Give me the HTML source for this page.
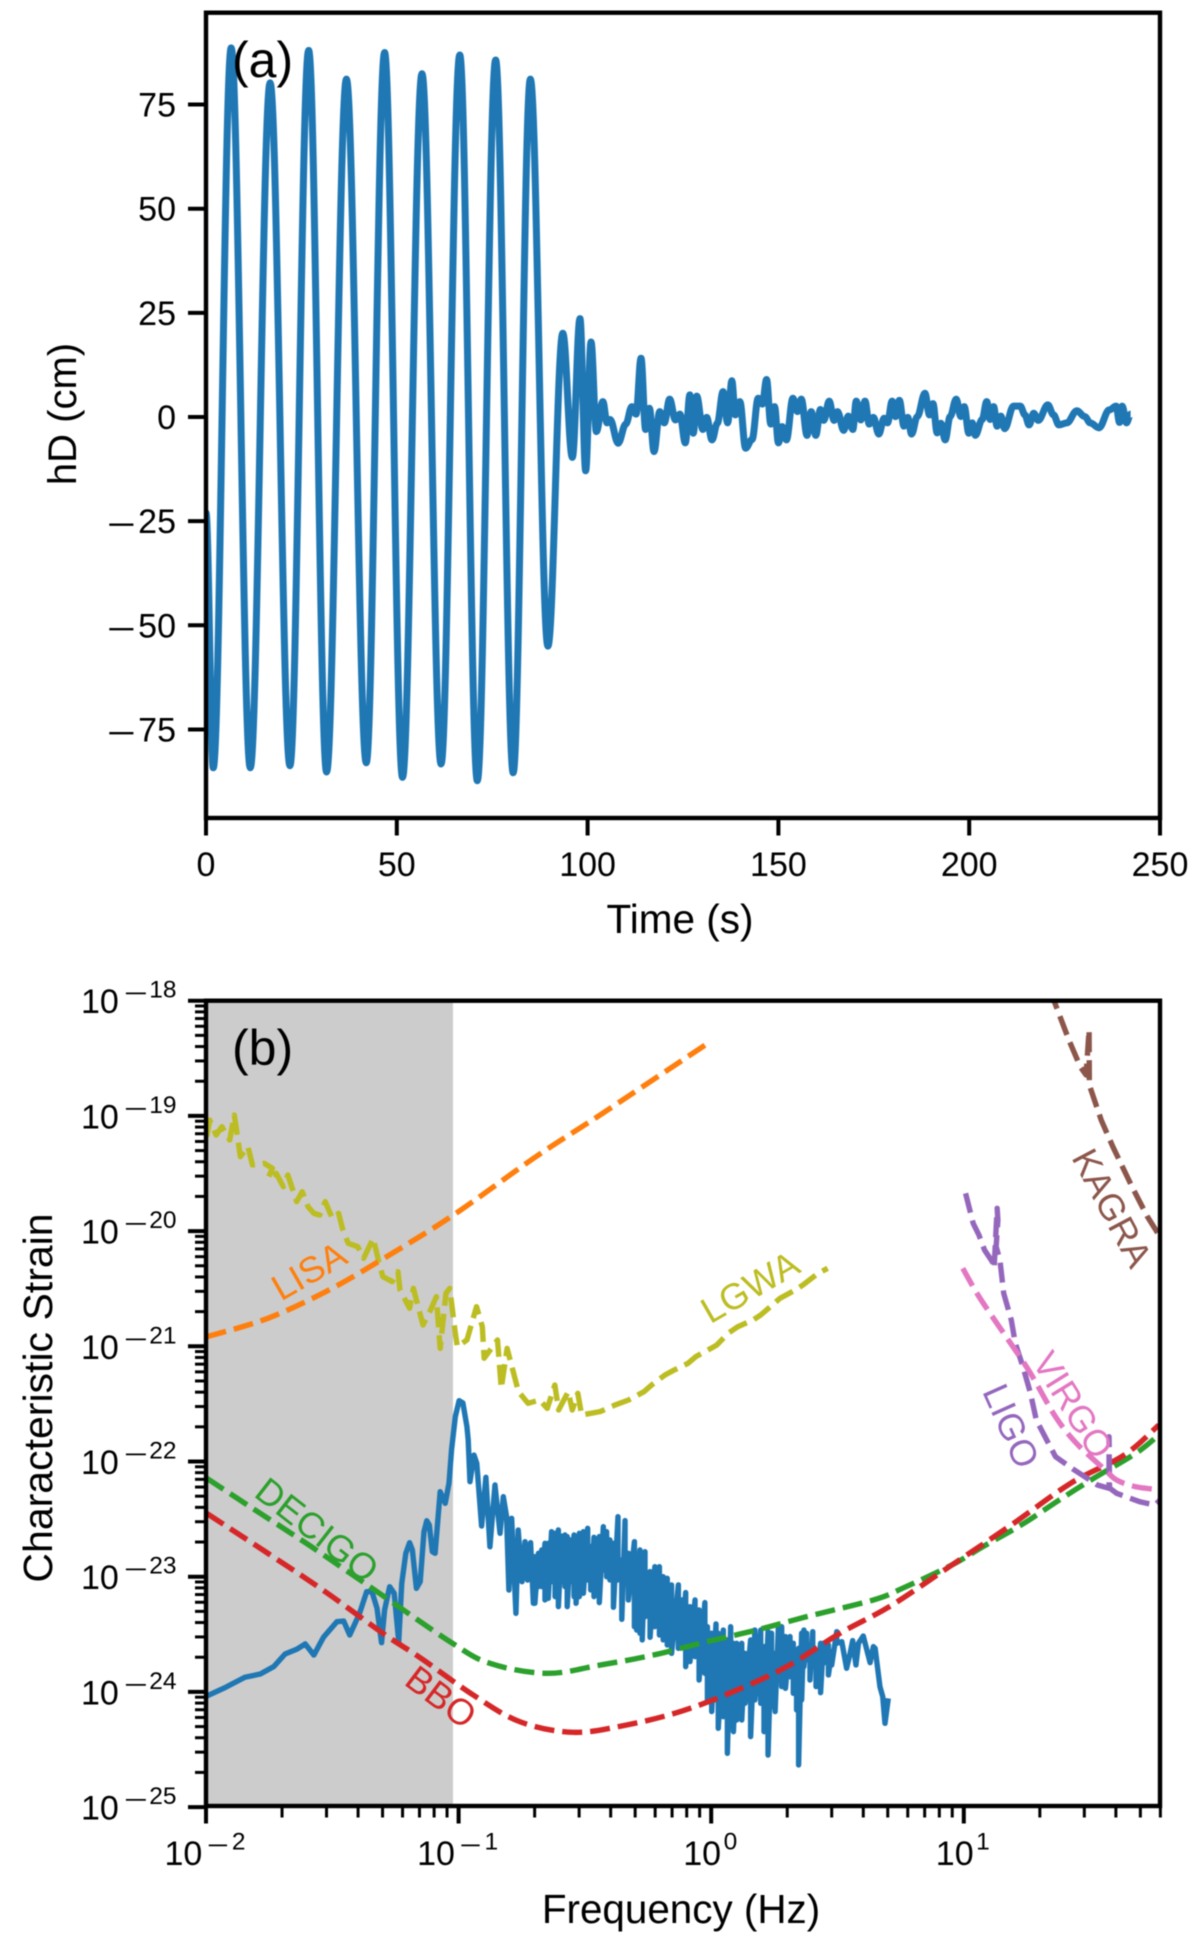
<!DOCTYPE html>
<html lang="en">
<head>
<meta charset="utf-8">
<title>Gravitational wave strain and characteristic strain</title>
<style>
html,body{margin:0;padding:0;background:#fff}
svg{display:block;filter:blur(0.5px)}
text{font-family:"Liberation Sans",sans-serif;fill:#000}
.line{fill:none;stroke-linejoin:round}
</style>
</head>
<body>
<svg id="figure" xmlns="http://www.w3.org/2000/svg" width="1200" height="1946" viewBox="0 0 1200 1946">
<rect width="1200" height="1946" fill="#fff"/>
<defs>
<clipPath id="clipA"><rect x="206" y="12.7" width="954" height="805.3"/></clipPath>
<clipPath id="clipB"><rect x="206" y="1000.7" width="954" height="805.3"/></clipPath>
</defs>
<g id="panelA"></g>
<g id="panelB"></g>
<text x="232" y="77" font-size="50">(a)</text>
<text x="232" y="1065" font-size="50">(b)</text>
<text x="680" y="933" font-size="40.5" text-anchor="middle">Time (s)</text>
<text x="76" y="414" font-size="40" text-anchor="middle" transform="rotate(-90 76 414)">hD (cm)</text>
<text x="681" y="1923" font-size="40.4" text-anchor="middle">Frequency (Hz)</text>
<text x="52" y="1398" font-size="41" text-anchor="middle" transform="rotate(-90 52 1398)">Characteristic Strain</text>
</svg>
<script>
// ---- Panel (a) data: time (s) and hD (cm), read at the local extrema of the curve
const waveTime = [0,1.9,6.6,11.6,16.8,22.0,26.9,31.6,36.8,42.0,46.8,51.5,56.6,61.6,66.5,71.1,75.9,80.5,85.0,89.6,
93.5,96,98,99.5,100.9,102.3,104,105.1,105.9,108,110,111.6,112.7,114,115.2,116.2,117.4,118.9,120.1,121.5,
123,124.2,125.6,126.8,127.7,128.6,130.2,131.2,132.6,134,135.5,136.7,137.8,138.7,139.9,141.4,143.1,144.7,145.8,146.9,
148,149,150,151,152.1,153.8,155,156,157.5,158.6,159.8,161,161.9,163.3,164.6,165.5,167.1,168.3,169.5,170.4,
171.6,172.7,173.8,174.9,176.3,177.7,178.6,179.8,180.7,181.7,182.9,183.9,184.9,186.4,188.4,189.6,190.5,191.6,192.6,193.7,
195,196.6,197.8,198.7,199.9,200.8,201.6,203.4,204.6,205.5,206.4,207.3,208.3,209.3,211.6,213.4,214.6,215.7,216.9,218.1,
220.6,222.1,223.5,225.6,228.2,230.3,231.7,234,236.7,238.5,239.4,240.1,241.2,242.3];
const waveHD = [-23,-84.2,88.6,-84.2,80.2,-83.7,88.0,-85.2,81.1,-83,87.5,-86.5,82.4,-83.3,86.9,-87.3,85.7,-85.4,81.1,-55,
20.1,-9.7,23.6,-12.9,18,-3.5,3.7,-1.4,-0.6,-6.3,-1.7,2.5,0.7,14.1,-3,2.1,-8.3,1.3,-1.4,4.3,
-0.7,0.7,-6.2,5.3,-3.9,5,-3,-0.1,-5.5,-1.5,6.1,-1.4,8.7,0.5,3.7,-7.5,-5.4,4.5,3.1,9,
-1.7,2.5,-6.2,-2.3,-5.5,4.5,1.3,4.3,-4.4,1.3,-4.4,1.8,-0.8,3.8,-0.8,1.3,-3.2,0.2,-3,3.8,
-0.7,3.8,-1.7,-0.1,-4.1,-0.3,-1.4,3.8,0.1,4,-2.2,-0.1,-4.1,0.1,5.7,0.5,3.2,-3.8,-1.5,-5.5,
0.1,4.3,0.1,2.5,-3.9,-1.4,-4.4,-0.6,3.7,-0.6,2.5,-2.2,0.2,-2.8,2.6,2.6,0.5,-1.9,0.9,-0.8,
2.9,0.5,-1.9,-1.4,1.5,0.1,-1.4,-2.6,1.7,2.6,-1.3,2.6,-1.4,0.7];
const waveXTicks = [0,50,100,150,200,250];
const waveYTicks = [-75,-50,-25,0,25,50,75];

// ---- Panel (b) data: log10(frequency / Hz) and log10(strain)
const spectrumHeadLogFreq = [-1.997,-1.922,-1.846,-1.785,-1.732,-1.687,-1.641,-1.607,-1.573,-1.535,-1.482,-1.455,-1.431,-1.392,-1.364,-1.343,-1.323,-1.305,-1.293,-1.273,
-1.255,-1.237,-1.225,-1.209,-1.194,-1.183,-1.167,-1.152,-1.137,-1.126,-1.116,-1.104,-1.093,-1.073,-1.053,-1.038,-1.028,-1.013,-0.998,-0.983,
-0.967,-0.962,-0.955,-0.939,-0.928,-0.909,-0.892,-0.876,-0.856,-0.836,-0.823,-0.810,-0.801,-0.790,-0.773,-0.764,-0.749,-0.737,-0.727,-0.715,-0.704];
const spectrumHeadLogStrain = [-24.036,-23.960,-23.873,-23.845,-23.781,-23.671,-23.630,-23.584,-23.680,-23.526,-23.391,-23.385,-23.506,-23.318,-23.130,-23.130,-23.274,-23.573,-23.289,-23.087,
-23.144,-23.564,-23.057,-22.797,-22.705,-22.768,-23.101,-23.043,-22.609,-22.514,-22.551,-22.783,-22.797,-22.262,-22.363,-22.187,-21.900,-21.611,-21.472,-21.492,
-21.698,-21.813,-22.175,-21.944,-22.016,-22.560,-22.137,-22.740,-22.204,-22.623,-22.306,-22.479,-23.116,-22.493,-23.318,-22.595,-23.043,-22.696,-23.029,-22.705,-23.231];

const bandLogFreq = [-0.698,-0.684,-0.671,-0.658,-0.645,-0.632,-0.618,-0.605,-0.592,-0.579,
-0.570,-0.556,-0.543,-0.535,-0.522,-0.506,-0.489,-0.477,-0.464,-0.443,
-0.427,-0.414,-0.401,-0.387,-0.369,-0.354,-0.341,-0.328,-0.304,-0.295,
-0.282,-0.273,-0.262,-0.242,-0.223,-0.205,-0.190,-0.174,-0.157,-0.130,
-0.117,-0.101,-0.084,-0.064,-0.048,-0.025,-0.015,0.002,0.019,0.028,
0.048,0.064,0.077,0.088,0.101,0.121,0.134,0.156,0.173,0.196,
0.209,0.225,0.239,0.253,0.266,0.279,0.294,0.312,0.325,0.338,
0.346,0.358,0.367,0.378,0.391,0.402,0.415,0.433,0.444,0.464,
0.477,0.497];
const bandPeakLogStrain = [-22.826,-22.797,-22.768,-22.710,-22.710,-22.609,-22.623,-22.594,-22.647,-22.638,
-22.652,-22.681,-22.638,-22.652,-22.623,-22.609,-22.580,-22.739,-22.658,-22.652,
-22.566,-22.609,-22.681,-22.710,-22.479,-22.855,-22.513,-22.797,-22.696,-22.942,
-22.768,-22.971,-22.783,-22.956,-22.913,-22.913,-23.000,-23.014,-23.072,-23.072,
-23.202,-23.138,-23.260,-23.202,-23.289,-23.225,-23.434,-23.491,-23.410,-23.491,
-23.463,-23.549,-23.434,-23.578,-23.578,-23.578,-23.665,-23.549,-23.463,-23.463,
-23.607,-23.477,-23.491,-23.665,-23.434,-23.434,-23.520,-23.520,-23.578,-23.665,
-23.622,-23.491,-23.463,-23.491,-23.607,-23.477,-23.665,-23.578,-23.578,-23.593,
-23.651,-23.477];
const bandDipLogStrain = [-23.231,-23.086,-23.086,-23.202,-23.188,-23.043,-23.173,-23.260,-23.043,-23.086,
-23.260,-23.043,-23.173,-23.231,-23.173,-23.144,-23.028,-23.115,-23.173,-23.225,
-22.942,-23.000,-23.028,-23.266,-23.028,-23.370,-23.057,-23.202,-23.434,-23.463,
-23.491,-23.549,-23.347,-23.526,-23.434,-23.506,-23.549,-23.593,-23.665,-23.622,
-23.578,-23.781,-23.737,-23.694,-23.897,-23.839,-24.070,-24.171,-24.070,-24.316,
-24.215,-24.533,-24.244,-24.345,-24.244,-24.244,-24.099,-24.388,-24.070,-24.099,
-24.345,-24.548,-24.128,-24.171,-23.868,-23.954,-23.969,-23.868,-24.012,-24.157,
-24.634,-24.070,-23.781,-23.723,-23.897,-23.723,-23.954,-24.007,-23.752,-23.853,
-23.766,-23.578];

const spectrumTailLogFreq = [0.517,0.536,0.550,0.560,0.573,0.583,0.602,0.629,0.642,0.649,0.668,0.679,0.688,0.701];
const spectrumTailLogStrain = [-23.564,-23.795,-23.665,-23.555,-23.766,-23.578,-23.515,-23.746,-23.607,-23.622,-23.954,-24.041,-24.273,-24.056];

const lisaLogFreq = [-1.997,-1.755,-1.513,-1.285,-1.020,-0.694,-0.440,-0.024];
const lisaLogStrain = [-20.917,-20.757,-20.511,-20.222,-19.860,-19.354,-18.992,-18.385];

const decigoLogFreq = [-1.997,-1.816,-1.603,-1.361,-1.034,-0.876,-0.651,-0.440,-0.229,-0.018,0.180,0.378,0.642,0.757,0.953,1.075,1.227,1.378,1.514,1.681,1.772];
const decigoLogStrain = [-22.146,-22.406,-22.710,-23.072,-23.564,-23.752,-23.839,-23.767,-23.680,-23.564,-23.463,-23.347,-23.202,-23.101,-22.898,-22.740,-22.551,-22.334,-22.146,-21.929,-21.770];

const bboLogFreq = [-1.997,-1.755,-1.528,-1.300,-1.149,-0.942,-0.757,-0.546,-0.335,-0.124,0.087,0.299,0.510,0.710,0.953,1.188,1.423,1.635,1.772];
const bboLogStrain = [-22.450,-22.797,-23.130,-23.491,-23.708,-24.027,-24.259,-24.351,-24.287,-24.172,-23.998,-23.781,-23.491,-23.254,-22.898,-22.551,-22.189,-21.944,-21.683];

const lgwaLogFreq = [-1.997,-1.985,-1.960,-1.937,-1.906,-1.888,-1.879,-1.864,-1.834,-1.816,-1.770,-1.737,-1.755,-1.722,-1.694,-1.676,-1.641,-1.619,-1.596,-1.573,
-1.550,-1.528,-1.500,-1.475,-1.460,-1.437,-1.399,-1.376,-1.338,-1.316,-1.300,-1.263,-1.240,-1.232,-1.194,-1.179,-1.141,-1.111,-1.088,-1.073,
-1.050,-1.035,-1.013,-1.005,-0.967,-0.929,-0.906,-0.899,-0.846,-0.831,-0.808,-0.763,-0.725,-0.679,-0.649,-0.619,-0.604,-0.566,-0.550,-0.528,
-0.513,-0.440,-0.425,-0.380,-0.327,-0.266,-0.236,-0.183,-0.152,-0.092,-0.061,-0.001,0.022,0.067,0.105,0.166,0.196,0.242,0.272,0.333,0.363,0.423,0.461];
const lgwaLogStrain = [-19.180,-19.036,-19.166,-19.094,-19.209,-18.992,-19.122,-19.354,-19.267,-19.426,-19.412,-19.455,-19.542,-19.499,-19.614,-19.513,-19.744,-19.658,-19.788,-19.846,
-19.860,-19.744,-19.889,-19.846,-19.976,-20.106,-20.135,-20.236,-20.063,-20.265,-20.395,-20.439,-20.352,-20.511,-20.670,-20.497,-20.815,-20.685,-20.569,-21.018,
-20.540,-20.497,-20.887,-21.003,-20.945,-20.656,-20.830,-21.104,-20.945,-21.365,-21.018,-21.394,-21.495,-21.466,-21.539,-21.336,-21.553,-21.394,-21.553,-21.408,
-21.596,-21.567,-21.553,-21.509,-21.466,-21.394,-21.336,-21.249,-21.212,-21.148,-21.090,-21.018,-20.989,-20.887,-20.830,-20.772,-20.728,-20.642,-20.584,-20.511,-20.468,-20.367,-20.323];

const kagraLogFreq = [1.341,1.416,1.461,1.484,1.496,1.497,1.544,1.590,1.666,1.727,1.785];
const kagraLogStrain = [-17.907,-18.341,-18.573,-18.645,-18.254,-18.732,-19.036,-19.267,-19.615,-19.875,-20.077];

const ligoLogFreq = [1.007,1.037,1.060,1.082,1.113,1.120,1.132,1.135,1.128,1.143,1.158,1.188,1.204,1.234,1.264,1.287,1.325,1.363,1.438,1.529,1.575,1.575,1.577,1.605,1.696,1.757,1.785];
const ligoLogStrain = [-19.672,-19.932,-20.034,-20.164,-20.266,-20.323,-19.802,-19.904,-20.135,-20.251,-20.540,-20.772,-20.974,-21.177,-21.408,-21.640,-21.799,-21.958,-22.074,-22.204,-22.233,-21.785,-22.230,-22.276,-22.349,-22.378,-22.317];

const virgoLogFreq = [0.996,1.052,1.113,1.181,1.264,1.363,1.446,1.560,1.605,1.681,1.785];
const virgoLogStrain = [-20.323,-20.540,-20.743,-20.960,-21.234,-21.611,-21.842,-22.074,-22.161,-22.219,-22.247];

const shadedMaxHz = 0.095;
const freqDecades = [-2,-1,0,1];
const freqMinorMultipliers = [2,3,4,5,6,7,8,9];
const freqExtraMinors = [20,30,40,50,60];
const strainDecades = [-18,-19,-20,-21,-22,-23,-24,-25];

// ---- Axis functions
const xA = t => 206 + t * 3.816;
const yA = v => 417 - v * 4.166;
const xB = lf => 206 + (lf + 2) * 252.6;
const yB = lh => 1000.7 + (-18 - lh) * 115.2;

const NS = 'http://www.w3.org/2000/svg';
const panelA = document.getElementById('panelA');
const panelB = document.getElementById('panelB');
function mk(tag, parent, attrs) {
  const el = document.createElementNS(NS, tag);
  for (const k in attrs) el.setAttribute(k, attrs[k]);
  parent.appendChild(el);
  return el;
}
const fix = n => n.toFixed(2);
function polyPath(xs, ys) {
  return xs.map((x, i) => (i ? 'L' : 'M') + fix(x) + ' ' + fix(ys[i])).join('');
}
function cosinePath(xs, ys) {
  let d = 'M' + fix(xs[0]) + ' ' + fix(ys[0]);
  for (let i = 1; i < xs.length; i++) {
    const dx = xs[i] - xs[i - 1];
    d += 'C' + fix(xs[i - 1] + dx * 0.364) + ' ' + fix(ys[i - 1]) + ' ' + fix(xs[i] - dx * 0.364) + ' ' + fix(ys[i]) + ' ' + fix(xs[i]) + ' ' + fix(ys[i]);
  }
  return d;
}
function smoothPath(xs, ys) {
  let d = 'M' + fix(xs[0]) + ' ' + fix(ys[0]);
  for (let i = 0; i < xs.length - 1; i++) {
    const a = Math.max(i - 1, 0), b = Math.min(i + 2, xs.length - 1);
    d += 'C' + fix(xs[i] + (xs[i + 1] - xs[a]) / 6) + ' ' + fix(ys[i] + (ys[i + 1] - ys[a]) / 6) + ' ' +
      fix(xs[i + 1] - (xs[b] - xs[i]) / 6) + ' ' + fix(ys[i + 1] - (ys[b] - ys[i]) / 6) + ' ' + fix(xs[i + 1]) + ' ' + fix(ys[i + 1]);
  }
  return d;
}

// ---- Panel (a)
const plotA = mk('g', panelA, {'clip-path': 'url(#clipA)'});
const waveLine = mk('path', plotA, {d: cosinePath(waveTime.map(xA), waveHD.map(yA)), class: 'line', stroke: '#1f77b4', 'stroke-width': 7});



const frameA = mk('rect', panelA, {x: 206, y: 12.7, width: 954, height: 805.3, fill: 'none', stroke: '#000', 'stroke-width': 4.4});



waveXTicks.forEach(t => {
  const tick = mk('line', panelA, {x1: xA(t), x2: xA(t), y1: 818, y2: 835.5, stroke: '#000', 'stroke-width': 4});
  
  
  const label = mk('text', panelA, {x: xA(t), y: 876, 'font-size': 34, 'text-anchor': 'middle'});
  
  
  label.textContent = String(t);
});
waveYTicks.forEach(v => {
  const tick = mk('line', panelA, {x1: 188, x2: 206, y1: yA(v), y2: yA(v), stroke: '#000', 'stroke-width': 4});
  
  
  const digits = String(Math.abs(v));
  const label = mk('text', panelA, {y: yA(v) + 12, 'font-size': 34});
  
  
  if (v < 0) {
    const minus = mk('tspan', label, {x: 107, dy: 3, textLength: 29, lengthAdjust: 'spacingAndGlyphs'});
    minus.textContent = '\u2212';
    const num = mk('tspan', label, {x: 176 - digits.length * 18.91, dy: -3});
    num.textContent = digits;
  } else {
    const num = mk('tspan', label, {x: 176 - digits.length * 18.91});
    num.textContent = digits;
  }
});

// ---- Panel (b)
const shade = mk('rect', panelB, {x: 206, y: 1000.7, width: xB(Math.log10(shadedMaxHz)) - 206, height: 805.3, fill: '#cccccc'});



const plotB = mk('g', panelB, {'clip-path': 'url(#clipB)'});

const blueXs = [], blueYs = [];
spectrumHeadLogFreq.forEach((f, i) => { blueXs.push(xB(f)); blueYs.push(yB(spectrumHeadLogStrain[i])); });
bandLogFreq.forEach((f, i) => {
  blueXs.push(xB(f)); blueYs.push(yB(bandPeakLogStrain[i]));
  blueXs.push(xB(f)); blueYs.push(yB(bandDipLogStrain[i]));
});
spectrumTailLogFreq.forEach((f, i) => { blueXs.push(xB(f)); blueYs.push(yB(spectrumTailLogStrain[i])); });
const spectrumLine = mk('path', plotB, {d: polyPath(blueXs, blueYs), class: 'line', stroke: '#1f77b4', 'stroke-width': 5.4});



const dash = {class: 'line', 'stroke-width': 5.4, 'stroke-dasharray': '20 8'};

const lgwaLine = mk('path', plotB, {...dash, d: polyPath(lgwaLogFreq.map(xB), lgwaLogStrain.map(yB)), stroke: '#bcbd22'});



const lisaLine = mk('path', plotB, {...dash, d: smoothPath(lisaLogFreq.map(xB), lisaLogStrain.map(yB)), stroke: '#ff7f0e'});



const decigoLine = mk('path', plotB, {...dash, d: smoothPath(decigoLogFreq.map(xB), decigoLogStrain.map(yB)), stroke: '#2ca02c'});



const bboLine = mk('path', plotB, {...dash, d: smoothPath(bboLogFreq.map(xB), bboLogStrain.map(yB)), stroke: '#d62728'});



const kagraLine = mk('path', plotB, {...dash, d: polyPath(kagraLogFreq.map(xB), kagraLogStrain.map(yB)), stroke: '#8c564b'});



const ligoLine = mk('path', plotB, {...dash, d: polyPath(ligoLogFreq.map(xB), ligoLogStrain.map(yB)), stroke: '#9467bd'});



const virgoLine = mk('path', plotB, {...dash, d: smoothPath(virgoLogFreq.map(xB), virgoLogStrain.map(yB)), stroke: '#e377c2'});



function curveLabel(text, x, y, angle, color) {
  const t = mk('text', panelB, {x: x, y: y + 12.5, 'font-size': 36.5, 'text-anchor': 'middle', transform: 'rotate(' + angle + ' ' + x + ' ' + y + ')'});
  t.style.fill = color;
  t.textContent = text;
  return t;
}
const lisaLabel = curveLabel('LISA', 309, 1271, -30, '#ff7f0e');


const lgwaLabel = curveLabel('LGWA', 750, 1287, -30, '#bcbd22');


const decigoLabel = curveLabel('DECIGO', 317, 1530, 38, '#2ca02c');


const bboLabel = curveLabel('BBO', 441, 1697, 37, '#d62728');


const kagraLabel = curveLabel('KAGRA', 1112, 1208, 62, '#8c564b');


const virgoLabel = curveLabel('VIRGO', 1073, 1405, 58, '#e377c2');


const ligoLabel = curveLabel('LIGO', 1011, 1426, 66, '#9467bd');



const frameB = mk('rect', panelB, {x: 206, y: 1000.7, width: 954, height: 805.3, fill: 'none', stroke: '#000', 'stroke-width': 4.4});



// Tick label "10^e": baseX = left of "10", minusX = left of the minus, digitsRight = right edge of exponent digits
function powerLabel(parent, y, exp, baseX, minusX, minusWidth, digitsRight) {
  const t = mk('text', parent, {y: y, 'font-size': 34});
  const base = mk('tspan', t, {x: baseX});
  base.textContent = '10';
  const digits = String(Math.abs(exp));
  const digitsX = digitsRight - digits.length * 13.62;
  if (exp < 0) {
    const minus = mk('tspan', t, {x: minusX, dy: -11.5, 'font-size': 24.5, textLength: minusWidth, lengthAdjust: 'spacingAndGlyphs'});
    minus.textContent = '\u2212';
    const num = mk('tspan', t, {x: digitsX, dy: -4, 'font-size': 24.5});
    num.textContent = digits;
  } else {
    const num = mk('tspan', t, {x: digitsX, dy: -15.5, 'font-size': 24.5});
    num.textContent = digits;
  }
  return t;
}
freqDecades.forEach(e => {
  const c = xB(e);
  const tick = mk('line', panelB, {x1: c, x2: c, y1: 1806, y2: 1823.5, stroke: '#000', 'stroke-width': 4});
  
  
  const label = e < 0
    ? powerLabel(panelB, 1865, e, c - 41.5, c + 1, 22, c + 39.5)
    : powerLabel(panelB, 1865, e, c - 28, c, 0, c + 26);
  
  
  freqMinorMultipliers.forEach(m => {
    const lf = e + Math.log10(m);
    if (e === 1) return;
    const minor = mk('line', panelB, {x1: xB(lf), x2: xB(lf), y1: 1806, y2: 1817.5, stroke: '#000', 'stroke-width': 3});
    
    
  });
});
freqExtraMinors.forEach(hz => {
  const lf = Math.log10(hz);
  const minor = mk('line', panelB, {x1: xB(lf), x2: xB(lf), y1: 1806, y2: 1817.5, stroke: '#000', 'stroke-width': 3});
  
  
});
strainDecades.forEach(e => {
  const tick = mk('line', panelB, {x1: 188, x2: 206, y1: yB(e), y2: yB(e), stroke: '#000', 'stroke-width': 4});
  
  
  const label = powerLabel(panelB, yB(e) + 12.5, e, 81, 124, 24, 176.5);
  
  
  if (e === -25) return;
  freqMinorMultipliers.forEach(m => {
    const lh = e - 1 + Math.log10(m);
    const minor = mk('line', panelB, {x1: 195, x2: 206, y1: yB(lh), y2: yB(lh), stroke: '#000', 'stroke-width': 3});
    
    
  });
});
</script>
</body>
</html>
